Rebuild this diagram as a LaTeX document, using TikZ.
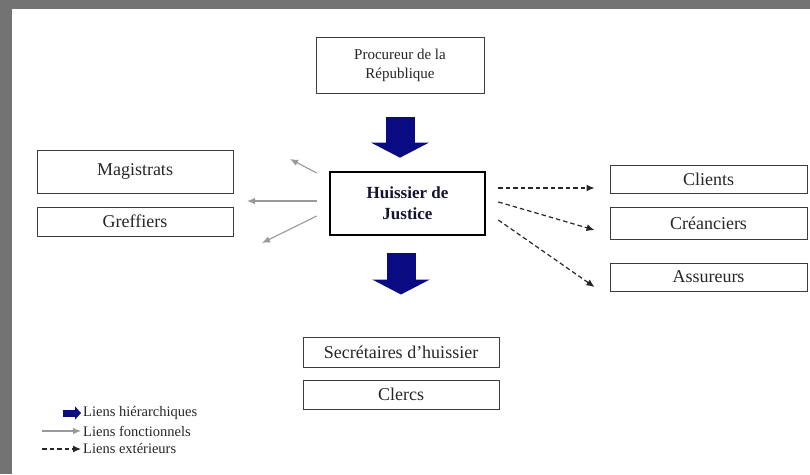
\documentclass[tikz,border=0pt]{standalone}
\usepackage{fontspec}
\setmainfont{Liberation Serif}
\usetikzlibrary{arrows.meta,calc}
\definecolor{hierblue}{RGB}{10,10,130}
\definecolor{boxline}{RGB}{60,60,60}
\definecolor{huistext}{RGB}{20,20,50}

\begin{document}
\begin{tikzpicture}[x=1pt, y=-1pt,
    % Define styles - plain rectangles, arrows drawn as thick lines
    box/.style={rectangle, draw=boxline, line width=1pt, inner sep=0pt, minimum width=196pt, text=black!85, font=\fontsize{18}{20}\selectfont, text centered},
    mainbox/.style={rectangle, draw=black, line width=2.6pt, inner sep=0pt, minimum width=155pt, minimum height=63pt, align=center, font=\fontsize{17}{21}\selectfont\bfseries, text=huistext},
    hier/.style={line width=29pt, hierblue, -{Triangle[length=15pt, width=57pt]}},
    func/.style={gray!80, line width=1.1pt, -{Latex[length=8pt, width=6.5pt]}},
    ext/.style={black!85, line width=1.2pt, dash pattern=on 4.5pt off 3pt, -{Latex[length=8pt, width=7pt]}},
    legend/.style={anchor=west, inner sep=0pt, font=\fontsize{14.5}{16}\selectfont, text=black!85}
]

% Frame
\useasboundingbox (0,0) rectangle (810,474);
\fill[black!55] (0,0) rectangle (810,474);
\fill[white] (12,9) rectangle (810,474);

% Authority
\node[box, minimum width=168pt, minimum height=56pt, align=center, font=\fontsize{15}{19}\selectfont] (procureur_box) at (400,65) {Procureur de la\\République};

% Central office
\node[mainbox] (huissier_box) at (407.5,203.5) {Huissier de\\Justice};

% Functional partners (left)
\node[box, minimum height=43pt] (magistrats_box) at (135,171.5) {Magistrats};
\node[box, minimum height=29pt] (greffiers_box) at (135,221.5) {Greffiers};

% External partners (right)
\node[box, minimum width=197pt, minimum height=28pt] (clients_box) at (708.5,179) {Clients};
\node[box, minimum width=197pt, minimum height=32pt] (creanciers_box) at (708.5,223) {Créanciers};
\node[box, minimum width=197pt, minimum height=28pt] (assureurs_box) at (708.5,277) {Assureurs};

% Staff (bottom)
\node[box, minimum height=30pt] (secretaires_box) at (401,352) {Secrétaires d'huissier};
\node[box, minimum height=29pt] (clercs_box) at (401,394.5) {Clercs};

% Hierarchical links
\draw[hier] ($(procureur_box.south)+(0pt,-23pt)$) -- ($(procureur_box.south |- huissier_box.north)+(0pt,13pt)$);
\draw[hier] ($(secretaires_box.north |- huissier_box.south)+(0pt,-17pt)$) -- ($(secretaires_box.north)+(0pt,42pt)$);

% Functional links
\coordinate (func_end_a) at (290,159);
\coordinate (func_end_b) at (247,201);
\coordinate (func_end_c) at (262,243);
\draw[func] ([shift={(-12pt,30.5pt)}]huissier_box.west) -- (func_end_a);
\draw[func] ([shift={(-12pt,2.5pt)}]huissier_box.west) -- (func_end_b);
\draw[func] ([shift={(-12pt,-12.5pt)}]huissier_box.west) -- (func_end_c);

% External links
\draw[ext] ([shift={(12pt,15.5pt)}]huissier_box.east) -- ([shift={(-15pt,-9pt)}]clients_box.west);
\draw[ext] ([shift={(12pt,1.5pt)}]huissier_box.east) -- ([shift={(-15pt,-7pt)}]creanciers_box.west);
\draw[ext] ([shift={(12pt,-16.5pt)}]huissier_box.east) -- ([shift={(-15pt,-10pt)}]assureurs_box.west);

% Legend
\node[legend] (legend_hier) at (83,413) {Liens hiérarchiques};
\node[legend] (legend_func) at (83,431) {Liens fonctionnels};
\node[legend] (legend_ext) at (83,449) {Liens extérieurs};
\coordinate (legend_hier_start) at (63,413);
\coordinate (legend_func_start) at (42,431);
\coordinate (legend_ext_start) at (42,449);
\draw[hier, line width=7pt, -{Triangle[length=6pt, width=13pt]}] (legend_hier_start) -- ([xshift=-2pt]legend_hier.west);
\draw[func] (legend_func_start) -- ([xshift=-2pt]legend_func.west);
\draw[ext] (legend_ext_start) -- ([xshift=-2pt]legend_ext.west);

\end{tikzpicture}
\end{document}
